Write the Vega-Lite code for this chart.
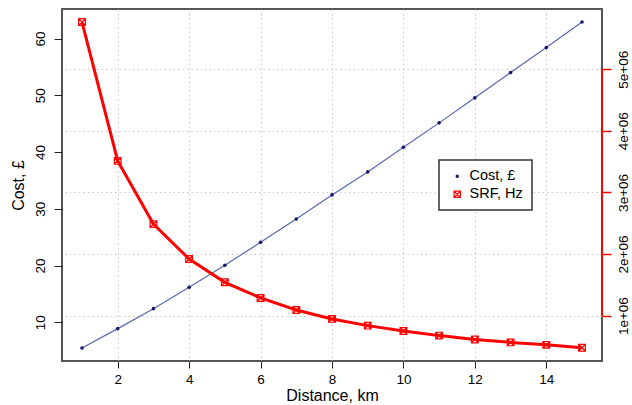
{
  "$schema": "https://vega.github.io/schema/vega-lite/v6.json",
  "width": 540,
  "height": 352,
  "autosize": {"type": "none"},
  "padding": {"left": 62, "top": 9, "right": 30, "bottom": 44},
  "background": "white",
  "config": {
    "font": "Liberation Sans",
    "view": {"stroke": "#555555", "strokeWidth": 2},
    "axis": {
      "labelFont": "Liberation Sans",
      "titleFont": "Liberation Sans",
      "labelFontSize": 13.5,
      "titleFontSize": 16,
      "titleFontWeight": "normal",
      "labelColor": "#000000",
      "titleColor": "#000000",
      "tickColor": "#222222",
      "gridColor": "#c8c8c8",
      "gridDash": [1.5, 3],
      "gridWidth": 1
    },
    "legend": {
      "orient": "none",
      "legendX": 377,
      "legendY": 151,
      "padding": 9,
      "fillColor": "white",
      "strokeColor": "#333333",
      "labelFont": "Liberation Sans",
      "labelFontSize": 14.5,
      "labelColor": "#000000",
      "symbolOffset": 2,
      "labelOffset": 5,
      "rowPadding": 3
    }
  },
  "data": {
    "values": [
      {"d": 1, "cost": 5.49, "srf": 5765000},
      {"d": 2, "cost": 8.89, "srf": 3512000},
      {"d": 3, "cost": 12.41, "srf": 2486000},
      {"d": 4, "cost": 16.17, "srf": 1919000},
      {"d": 5, "cost": 20.05, "srf": 1541000},
      {"d": 6, "cost": 24.1, "srf": 1287000},
      {"d": 7, "cost": 28.2, "srf": 1092000},
      {"d": 8, "cost": 32.45, "srf": 947000},
      {"d": 9, "cost": 36.5, "srf": 838000},
      {"d": 10, "cost": 40.84, "srf": 752000},
      {"d": 11, "cost": 45.14, "srf": 676000},
      {"d": 12, "cost": 49.55, "srf": 613000},
      {"d": 13, "cost": 54.0, "srf": 566000},
      {"d": 14, "cost": 58.4, "srf": 526000},
      {"d": 15, "cost": 62.9, "srf": 480000}
    ]
  },
  "encoding": {
    "x": {
      "field": "d",
      "type": "quantitative",
      "scale": {"domain": [0.44, 15.56], "nice": false, "zero": false},
      "axis": {
        "values": [2, 4, 6, 8, 10, 12, 14],
        "grid": true,
        "domain": false,
        "tickSize": 7,
        "labelPadding": 4,
        "title": "Distance, km",
        "titlePadding": 2
      }
    }
  },
  "layer": [
    {
      "encoding": {
        "y": {
          "field": "cost",
          "type": "quantitative",
          "scale": {"domain": [3.19, 65.2], "nice": false, "zero": false},
          "axis": {
            "orient": "left",
            "values": [10, 20, 30, 40, 50, 60],
            "grid": false,
            "domain": false,
            "tickSize": 8,
            "labelAngle": -90,
            "labelAlign": "center",
            "labelBaseline": "bottom",
            "labelPadding": 7,
            "title": "Cost, £",
            "titlePadding": 7
          }
        }
      },
      "layer": [
        {"mark": {"type": "line", "color": "#5867b4", "strokeWidth": 1.2}},
        {
          "mark": {"type": "point", "filled": true, "size": 13, "opacity": 1},
          "encoding": {
            "color": {
              "datum": "Cost, £",
              "scale": {"domain": ["Cost, £", "SRF, Hz"], "range": ["#16166a", "#ff0000"]},
              "legend": {
                "title": null,
                "encoding": {
                  "legend": {"strokeWidth": {"value": 1.5}},
                  "symbols": {
                    "shape": {"value": {"expr": "datum.index === 0 ? 'circle' : 'M-1,-1H1V1H-1Z M-1,-1L1,1 M-1,1L1,-1'"}},
                    "fill": {"value": {"expr": "datum.index === 0 ? '#16166a' : 'transparent'"}},
                    "fillOpacity": {"value": {"expr": "datum.index === 0 ? 1 : 0"}},
                    "stroke": {"value": {"expr": "datum.index === 0 ? 'transparent' : '#ff0000'"}},
                    "strokeOpacity": {"value": {"expr": "datum.index === 0 ? 0 : 1"}},
                    "size": {"value": {"expr": "datum.index === 0 ? 12 : 40"}},
                    "strokeWidth": {"value": 1.2},
                    "opacity": {"value": 1}
                  }
                }
              }
            }
          }
        }
      ]
    },
    {
      "encoding": {
        "y": {
          "field": "srf",
          "type": "quantitative",
          "scale": {"domain": [264000, 5977000], "nice": false, "zero": false},
          "axis": {
            "orient": "right",
            "values": [1000000, 2000000, 3000000, 4000000, 5000000],
            "labelExpr": "replace(format(datum.value, '.0e'), 'e+', 'e+0')",
            "grid": true,
            "domain": false,
            "labelColor": "#000000",
            "tickColor": "#ff0000",
            "tickSize": 9,
            "tickWidth": 1.5,
            "labelAngle": -90,
            "labelAlign": "center",
            "labelBaseline": "top",
            "labelPadding": 5,
            "title": null,
            "encoding": {"labels": {"fill": {"value": "#000000"}}}
          }
        }
      },
      "layer": [
        {"mark": {"type": "line", "color": "#ff0000", "strokeWidth": 3}},
        {
          "mark": {"type": "point", "filled": false, "size": 45, "strokeWidth": 1.2, "opacity": 1},
          "encoding": {
            "color": {
              "datum": "SRF, Hz",
              "scale": {"domain": ["Cost, £", "SRF, Hz"], "range": ["#16166a", "#ff0000"]},
              "legend": {
                "title": null,
                "encoding": {
                  "legend": {"strokeWidth": {"value": 1.5}},
                  "symbols": {
                    "shape": {"value": {"expr": "datum.index === 0 ? 'circle' : 'M-1,-1H1V1H-1Z M-1,-1L1,1 M-1,1L1,-1'"}},
                    "fill": {"value": {"expr": "datum.index === 0 ? '#16166a' : 'transparent'"}},
                    "fillOpacity": {"value": {"expr": "datum.index === 0 ? 1 : 0"}},
                    "stroke": {"value": {"expr": "datum.index === 0 ? 'transparent' : '#ff0000'"}},
                    "strokeOpacity": {"value": {"expr": "datum.index === 0 ? 0 : 1"}},
                    "size": {"value": {"expr": "datum.index === 0 ? 12 : 40"}},
                    "strokeWidth": {"value": 1.2},
                    "opacity": {"value": 1}
                  }
                }
              }
            },
            "shape": {
              "datum": "SRF, Hz",
              "scale": {"domain": ["Cost, £", "SRF, Hz"], "range": ["circle", "M-1,-1H1V1H-1Z M-1,-1L1,1 M-1,1L1,-1"]},
              "legend": null
            }
          }
        },
        {
          "mark": {"type": "rule", "color": "#ff0000", "strokeWidth": 1.5},
          "encoding": {
            "x": {"datum": 15.56, "type": "quantitative"},
            "y": {"datum": 1000000, "type": "quantitative"},
            "y2": {"datum": 5000000}
          }
        }
      ]
    }
  ],
  "resolve": {"scale": {"y": "independent"}, "axis": {"y": "independent"}}
}
